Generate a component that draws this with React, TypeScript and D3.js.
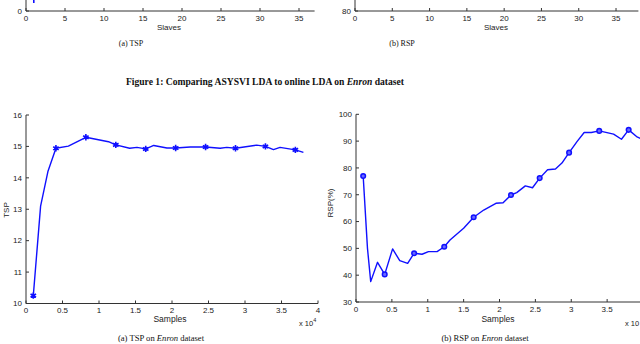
import React, { useEffect, useRef } from "react";
import * as d3 from "d3";

// TSP on Enron (samples -> TSP)
const tspSamples = [1000, 2000, 3000, 4100, 5800, 8200, 11300, 12300, 14200, 15200, 16400, 17500, 19300, 20500, 22500, 24600, 26600, 27500, 28700, 31600, 32800, 33900, 34800, 36900, 38000];
const tspValues = [10.25, 13.1, 14.2, 14.94, 15.01, 15.29, 15.15, 15.05, 14.94, 14.97, 14.92, 15.03, 14.95, 14.95, 14.98, 14.98, 14.94, 14.97, 14.94, 15.04, 15.0, 14.9, 14.97, 14.89, 14.81];
const tspMarkers = [1000, 4100, 8200, 12300, 16400, 20500, 24600, 28700, 32800, 36900];

// RSP on Enron (samples -> RSP %)
const rspSamples = [1000, 1600, 2050, 3000, 4000, 5100, 6100, 7200, 8100, 9200, 10100, 11300, 12300, 13100, 15000, 16400, 17800, 19500, 20500, 21600, 22400, 23600, 24600, 25600, 26700, 27800, 28700, 29700, 30800, 31800, 32800, 33900, 35900, 37000, 38000, 39100, 40000];
const rspValues = [77.0, 50.0, 37.6, 44.8, 40.3, 49.8, 45.4, 44.4, 48.2, 47.8, 48.8, 48.8, 50.6, 53.1, 57.5, 61.6, 64.3, 66.8, 67.0, 69.9, 70.8, 73.3, 72.6, 76.2, 79.3, 79.6, 81.8, 85.7, 89.8, 93.2, 93.2, 93.8, 92.6, 90.7, 94.2, 91.7, 90.5];
const rspMarkers = [1000, 4000, 8100, 12300, 16400, 21600, 25600, 29700, 33900, 38000];

const sampleTicks = [0, 5000, 10000, 15000, 20000, 25000, 30000, 35000, 40000];
const tspTicks = [10, 11, 12, 13, 14, 15, 16];
const rspTicks = [30, 40, 50, 60, 70, 80, 90, 100];
const slaveTicks = [0, 5, 10, 15, 20, 25, 30, 35];

const W = 640;
const H = 344;
const BLUE = "#1010ff";
const AXIS = "#333";
const SANS = "'Liberation Sans', Arial, sans-serif";
const SERIF = "'Liberation Serif', 'Times New Roman', serif";

const App = () => {
  const svgRef = useRef(null);

  useEffect(() => {
    const svg = d3.select(svgRef.current);
    svg.selectAll("*").remove();

    svg.append("rect").attr("width", W).attr("height", H).attr("fill", "#fff");

    // simple MATLAB-like axes with inward ticks
    const drawAxes = (x, y, xTicks, yTicks, xFmt, yFmt, xEnd) => {
      const g = svg.append("g");
      const [x0] = x.range();
      const [y0, y1] = y.range();
      g.append("line").attr("x1", x0).attr("x2", xEnd).attr("y1", y0).attr("y2", y0)
        .attr("stroke", AXIS).attr("stroke-width", 1);
      g.append("line").attr("x1", x0).attr("x2", x0).attr("y1", y0).attr("y2", y1)
        .attr("stroke", AXIS).attr("stroke-width", 1);
      xTicks.forEach((t) => {
        g.append("line").attr("x1", x(t)).attr("x2", x(t)).attr("y1", y0).attr("y2", y0 - 3)
          .attr("stroke", AXIS);
        g.append("text").attr("x", x(t)).attr("y", y0 + 9.5).attr("text-anchor", "middle")
          .style("font-family", SANS).style("font-size", "8px").style("fill", "#222")
          .text(xFmt(t));
      });
      yTicks.forEach((t) => {
        g.append("line").attr("x1", x0).attr("x2", x0 + 3).attr("y1", y(t)).attr("y2", y(t))
          .attr("stroke", AXIS);
        g.append("text").attr("x", x0 - 4).attr("y", y(t) + 2.8).attr("text-anchor", "end")
          .style("font-family", SANS).style("font-size", "8px").style("fill", "#222")
          .text(yFmt(t));
      });
      return g;
    };

    // ---- cropped top panels (Slaves) ----
    const xTopL = d3.scaleLinear().domain([0, 37]).range([26, 314.6]);
    const yTopL = d3.scaleLinear().domain([0, 10]).range([11, -60]);
    drawAxes(xTopL, yTopL, slaveTicks, [0], (d) => d, (d) => d, 314.6);
    svg.append("line").attr("x1", xTopL(1)).attr("x2", xTopL(1)).attr("y1", 0).attr("y2", 3)
      .attr("stroke", BLUE).attr("stroke-width", 1.6);
    svg.append("text").attr("x", 169).attr("y", 30).attr("text-anchor", "middle")
      .style("font-family", SANS).style("font-size", "8px").style("fill", "#222").text("Slaves");

    const xTopR = d3.scaleLinear().domain([0, 38]).range([355, 638.4]);
    const yTopR = d3.scaleLinear().domain([80, 90]).range([11, -60]);
    drawAxes(xTopR, yTopR, slaveTicks, [80], (d) => d, (d) => d, 638.4);
    svg.append("text").attr("x", 496).attr("y", 30).attr("text-anchor", "middle")
      .style("font-family", SANS).style("font-size", "8px").style("fill", "#222").text("Slaves");

    const caption = (x, y, parts, size, weight) => {
      const t = svg.append("text").attr("x", x).attr("y", y).attr("text-anchor", "middle")
        .style("font-family", SERIF).style("font-size", size).style("font-weight", weight)
        .style("fill", "#111");
      parts.forEach(([s, it]) => {
        t.append("tspan").style("font-style", it ? "italic" : "normal").text(s);
      });
    };
    caption(131, 46, [["(a)  TSP", false]], "8px", "normal");
    caption(402, 46, [["(b)  RSP", false]], "8px", "normal");
    caption(265, 85, [["Figure 1: Comparing ASYSVI LDA to online LDA on ", false], ["Enron", true], [" dataset", false]], "9.6px", "bold");

    // ---- TSP panel ----
    const xL = d3.scaleLinear().domain([0, 40000]).range([26, 318]);
    const yL = d3.scaleLinear().domain([10, 16]).range([303.5, 115]);
    drawAxes(xL, yL, sampleTicks, tspTicks, (d) => d3.format("~g")(d / 10000), (d) => d, 318);

    const lineL = d3.line().x((d) => xL(d[0])).y((d) => yL(d[1]));
    const tspData = tspSamples.map((s, i) => [s, tspValues[i]]);
    svg.append("path").datum(tspData).attr("d", lineL).attr("fill", "none")
      .attr("stroke", BLUE).attr("stroke-width", 1.4).attr("stroke-linejoin", "round");
    const star = d3.symbol().type(d3.symbolAsterisk).size(28);
    tspData.filter((d) => tspMarkers.includes(d[0])).forEach((d) => {
      svg.append("path").attr("d", star()).attr("transform", `translate(${xL(d[0])},${yL(d[1])})`)
        .attr("fill", "none").attr("stroke", BLUE).attr("stroke-width", 1.6);
      svg.append("circle").attr("cx", xL(d[0])).attr("cy", yL(d[1])).attr("r", 1.8).attr("fill", BLUE);
    });

    svg.append("text").attr("transform", "translate(9,210) rotate(-90)").attr("text-anchor", "middle")
      .style("font-family", SANS).style("font-size", "8px").style("fill", "#222").text("TSP");
    svg.append("text").attr("x", 170).attr("y", 322).attr("text-anchor", "middle")
      .style("font-family", SANS).style("font-size", "8.5px").style("fill", "#222").text("Samples");
    const expL = svg.append("text").attr("x", 299).attr("y", 326)
      .style("font-family", SANS).style("font-size", "7.5px").style("fill", "#222");
    expL.append("tspan").text("x 10");
    expL.append("tspan").attr("dy", -4).style("font-size", "5.5px").text("4");
    caption(161, 341, [["(a)  TSP on ", false], ["Enron", true], [" dataset", false]], "8.6px", "normal");

    // ---- RSP panel ----
    const xR = d3.scaleLinear().domain([0, 40000]).range([356, 643]);
    const yR = d3.scaleLinear().domain([30, 100]).range([302, 114.3]);
    const clip = svg.append("clipPath").attr("id", "clipR");
    clip.append("rect").attr("x", 340).attr("y", 100).attr("width", 300).attr("height", 210);
    drawAxes(xR, yR, sampleTicks.filter((t) => t < 40000), rspTicks,
      (d) => d3.format("~g")(d / 10000), (d) => d, 643);

    const lineR = d3.line().x((d) => xR(d[0])).y((d) => yR(d[1]));
    const rspData = rspSamples.map((s, i) => [s, rspValues[i]]);
    const gR = svg.append("g").attr("clip-path", "url(#clipR)");
    gR.append("path").datum(rspData).attr("d", lineR).attr("fill", "none")
      .attr("stroke", BLUE).attr("stroke-width", 1.4).attr("stroke-linejoin", "round");
    rspData.filter((d) => rspMarkers.includes(d[0])).forEach((d) => {
      gR.append("circle").attr("cx", xR(d[0])).attr("cy", yR(d[1])).attr("r", 2.3)
        .attr("fill", "#6a6aff").attr("stroke", BLUE).attr("stroke-width", 1.5);
    });

    svg.append("text").attr("transform", "translate(333,203) rotate(-90)").attr("text-anchor", "middle")
      .style("font-family", SANS).style("font-size", "8px").style("fill", "#222").text("RSP(%)");
    svg.append("text").attr("x", 498).attr("y", 322).attr("text-anchor", "middle")
      .style("font-family", SANS).style("font-size", "8.5px").style("fill", "#222").text("Samples");
    svg.append("text").attr("x", 625).attr("y", 326)
      .style("font-family", SANS).style("font-size", "7.5px").style("fill", "#222").text("x 10");
    caption(485, 341, [["(b)  RSP on ", false], ["Enron", true], [" dataset", false]], "8.6px", "normal");
  }, []);

  return (
    <svg ref={svgRef} width={W} height={H}
      style={{ position: "absolute", left: 0, top: 0, display: "block" }} />
  );
};

export default App;
